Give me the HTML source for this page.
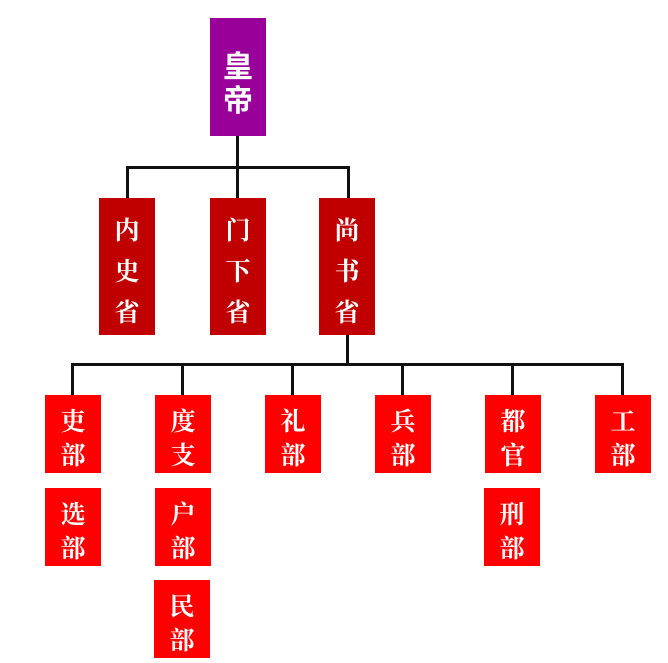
<!DOCTYPE html>
<html><head><meta charset="utf-8"><style>
body{margin:0;width:668px;height:663px;background:#fff;position:relative;overflow:hidden}
.b{position:absolute;color:#fff;display:flex;flex-direction:column;align-items:center;justify-content:center;font-family:"Liberation Serif","Noto Serif CJK SC",serif;font-weight:bold;font-size:25px;box-sizing:border-box}
.l{position:absolute;background:#111}
.r2{background:#c00000;line-height:41px;padding-top:12px}
.r3{background:#ff0000;line-height:34px;padding-top:12px}
</style></head><body>
<div class="b" style="left:210px;top:18px;width:56px;height:118px;background:#990099;font-family:'Liberation Sans','Noto Sans CJK SC',sans-serif;font-size:30px;line-height:34px;padding-top:16px">皇<br>帝</div>
<div class="l" style="left:236px;top:136px;width:3px;height:62px"></div>
<div class="l" style="left:126px;top:166px;width:224px;height:3px"></div>
<div class="l" style="left:126px;top:166px;width:3px;height:32px"></div>
<div class="l" style="left:347px;top:166px;width:3px;height:32px"></div>
<div class="b r2" style="left:99px;top:198px;width:56px;height:137px">内<br>史<br>省</div>
<div class="b r2" style="left:210px;top:198px;width:56px;height:137px">门<br>下<br>省</div>
<div class="b r2" style="left:319px;top:198px;width:56px;height:137px">尚<br>书<br>省</div>
<div class="l" style="left:346px;top:335px;width:3px;height:29px"></div>
<div class="l" style="left:71px;top:363px;width:553px;height:3px"></div>
<div class="l" style="left:71px;top:363px;width:3px;height:32px"></div>
<div class="l" style="left:181px;top:363px;width:3px;height:32px"></div>
<div class="l" style="left:291px;top:363px;width:3px;height:32px"></div>
<div class="l" style="left:401px;top:363px;width:3px;height:32px"></div>
<div class="l" style="left:511px;top:363px;width:3px;height:32px"></div>
<div class="l" style="left:621px;top:363px;width:3px;height:32px"></div>
<div class="b r3" style="left:45px;top:395px;width:56px;height:78px">吏<br>部</div>
<div class="b r3" style="left:155px;top:395px;width:56px;height:78px">度<br>支</div>
<div class="b r3" style="left:265px;top:395px;width:56px;height:78px">礼<br>部</div>
<div class="b r3" style="left:375px;top:395px;width:56px;height:78px">兵<br>部</div>
<div class="b r3" style="left:485px;top:395px;width:56px;height:78px">都<br>官</div>
<div class="b r3" style="left:595px;top:395px;width:56px;height:78px">工<br>部</div>
<div class="b r3" style="left:45px;top:488px;width:56px;height:78px">选<br>部</div>
<div class="b r3" style="left:155px;top:488px;width:56px;height:78px">户<br>部</div>
<div class="b r3" style="left:484px;top:488px;width:56px;height:78px">刑<br>部</div>
<div class="b r3" style="left:154px;top:580px;width:56px;height:78px">民<br>部</div>
</body></html>
